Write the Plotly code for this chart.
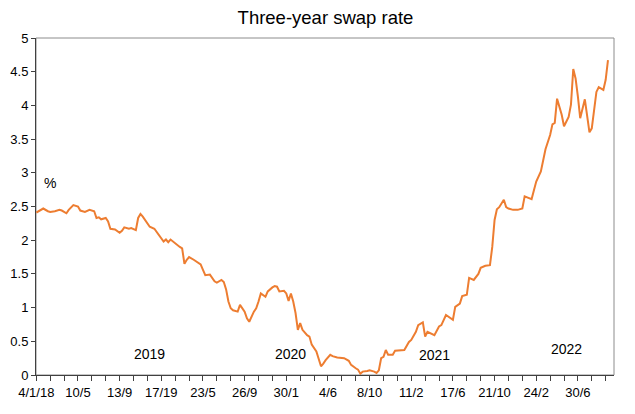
import pandas as pd
import plotly.graph_objects as go

# Weekly observations (Thursdays), week offset from 4 Jan 2018
weeks = [0, 3, 5, 6, 8, 10, 11, 13, 14, 16, 18, 19, 21, 23, 25, 26, 27, 28, 30, 31,
         32, 34, 36, 37, 38, 40, 41, 43, 44, 45, 46, 48, 49, 51, 52, 54, 55, 56, 57, 58,
         59, 61, 62, 63, 64, 65, 66, 68, 69, 71, 72, 73, 75, 77, 78, 79, 80, 81, 82, 83,
         84, 85, 87, 88, 90, 91, 92, 94, 95, 96, 97, 99, 100, 102, 103, 104, 105, 107, 108, 109,
         110, 111, 112, 113, 114, 115, 117, 118, 119, 121, 122, 123, 124, 125, 127, 128, 130, 133, 135, 136,
         138, 139, 140, 141, 143, 144, 146, 147, 148, 149, 150, 151, 152, 154, 155, 157, 159, 161, 162, 164,
         165, 167, 168, 169, 170, 172, 174, 175, 177, 178, 180, 181, 183, 184, 186, 187, 189, 191, 192, 194,
         196, 197, 198, 199, 200, 202, 203, 204, 206, 208, 210, 211, 213, 214, 215, 216, 218, 219, 220, 222,
         223, 224, 225, 227, 228, 230, 231, 232, 233, 234, 235, 237, 238, 239, 240, 242, 243, 245, 246, 247]
swap_rate = [2.41, 2.47, 2.43, 2.42, 2.43, 2.45, 2.44, 2.40, 2.45, 2.52, 2.50, 2.44, 2.42, 2.45, 2.43, 2.33, 2.34, 2.31, 2.33, 2.28,
             2.17, 2.16, 2.11, 2.14, 2.19, 2.17, 2.18, 2.15, 2.33, 2.39, 2.35, 2.25, 2.20, 2.17, 2.12, 2.03, 1.98, 2.01, 1.97, 2.01,
             1.98, 1.93, 1.90, 1.88, 1.65, 1.71, 1.75, 1.71, 1.69, 1.64, 1.56, 1.48, 1.49, 1.39, 1.37, 1.39, 1.41, 1.38, 1.27, 1.09,
             0.99, 0.96, 0.94, 1.04, 0.94, 0.84, 0.79, 0.94, 0.99, 1.09, 1.21, 1.16, 1.24, 1.30, 1.32, 1.31, 1.24, 1.25, 1.21, 1.10,
             1.21, 1.09, 0.92, 0.67, 0.77, 0.67, 0.59, 0.57, 0.45, 0.35, 0.22, 0.13, 0.17, 0.22, 0.30, 0.28, 0.26, 0.25, 0.21, 0.15,
             0.10, 0.08, 0.02, 0.05, 0.06, 0.07, 0.05, 0.03, 0.07, 0.25, 0.27, 0.37, 0.30, 0.30, 0.36, 0.36, 0.37, 0.49, 0.52, 0.64,
             0.74, 0.78, 0.57, 0.64, 0.62, 0.59, 0.72, 0.74, 0.89, 0.87, 0.82, 1.01, 1.06, 1.17, 1.19, 1.44, 1.41, 1.50, 1.59, 1.62,
             1.63, 1.90, 2.30, 2.46, 2.49, 2.60, 2.49, 2.47, 2.45, 2.45, 2.47, 2.65, 2.62, 2.61, 2.74, 2.87, 3.02, 3.19, 3.35, 3.56,
             3.72, 3.74, 4.10, 3.86, 3.69, 3.83, 4.01, 4.54, 4.40, 4.13, 3.81, 4.09, 3.81, 3.60, 3.66, 4.20, 4.27, 4.23, 4.38, 4.67]

tick_labels = ["4/1/18", "10/5", "13/9", "17/19", "23/5", "26/9", "30/1",
               "4/6", "8/10", "11/2", "17/6", "21/10", "24/2", "30/6"]
year_labels = ["2019", "2020", "2021", "2022"]
year_label_weeks = [49, 110, 172, 229]
year_label_values = [0.31, 0.31, 0.30, 0.39]

start = pd.Timestamp("2018-01-04")
dates = [start + pd.Timedelta(weeks=w) for w in weeks]

tick_weeks = list(range(0, 247, 6))
tickvals = [start + pd.Timedelta(weeks=w) for w in tick_weeks]
ticktext = []
for i, w in enumerate(tick_weeks):
    ticktext.append(tick_labels[i // 3] if i % 3 == 0 and i // 3 < len(tick_labels) else "")

font = "Liberation Sans, Arial, sans-serif"

fig = go.Figure()
fig.add_trace(go.Scatter(x=dates, y=swap_rate, mode="lines",
                         line=dict(color="#ED7D31", width=2), hoverinfo="x+y"))

for lab, w, v in zip(year_labels, year_label_weeks, year_label_values):
    fig.add_annotation(x=start + pd.Timedelta(weeks=w), y=v, text=lab, showarrow=False,
                       font=dict(size=14, color="#000000", family=font))
fig.add_annotation(x=start + pd.Timedelta(weeks=6), y=2.85, text="%", showarrow=False,
                   font=dict(size=14, color="#000000", family=font))

# frame (top/right border)
fig.add_shape(type="rect", xref="paper", yref="paper", x0=0, x1=1, y0=0, y1=1,
              line=dict(color="#8c8c8c", width=1), layer="below")

fig.update_layout(
    width=635, height=414,
    margin=dict(l=28, r=29, t=30, b=47, autoexpand=False),
    paper_bgcolor="white", plot_bgcolor="white",
    showlegend=False,
    title=dict(text="Three-year swap rate", x=0.5, xanchor="center", y=0.976, yanchor="middle",
               font=dict(size=18.5, color="#000000", family=font)),
    font=dict(family=font, size=13, color="#000000"),
    xaxis=dict(range=[start - pd.Timedelta(days=1), start + pd.Timedelta(weeks=249.6)],
               tickmode="array", tickvals=tickvals, ticktext=ticktext,
               ticks="outside", ticklen=5, tickcolor="#404040", tickwidth=1,
               showline=True, linecolor="#404040", linewidth=1,
               showgrid=False, zeroline=False, automargin=False,
               tickfont=dict(size=13, family=font, color="#000000")),
    yaxis=dict(range=[0, 5], tickmode="array", tickvals=[0, 0.5, 1, 1.5, 2, 2.5, 3, 3.5, 4, 4.5, 5],
               ticktext=["0", "0.5", "1", "1.5", "2", "2.5", "3", "3.5", "4", "4.5", "5"],
               ticks="outside", ticklen=4, tickcolor="#404040",
               showline=True, linecolor="#404040", linewidth=1,
               showgrid=False, zeroline=False, automargin=False,
               tickfont=dict(size=13, family=font, color="#000000")),
)

fig.write_html("out.html")
